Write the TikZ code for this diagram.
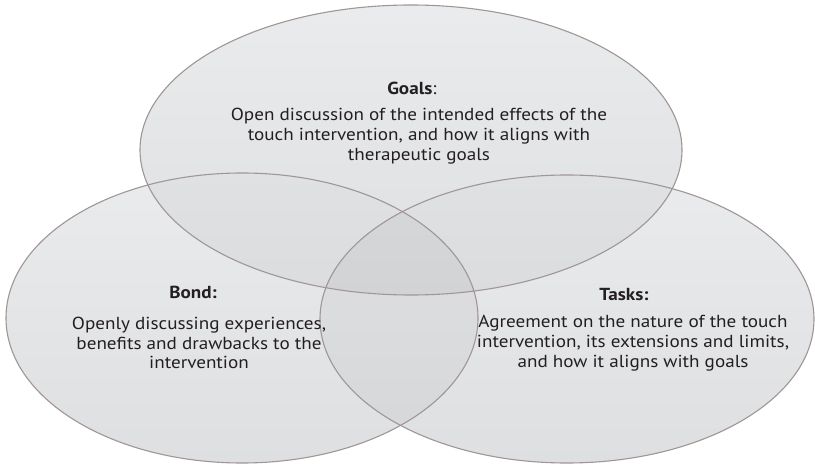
\documentclass[tikz,border=0pt]{standalone}
\usepackage{fontspec}
\setmainfont{PT Sans}[FakeStretch=1.1]
\begin{document}
\definecolor{rimcol}{RGB}{160,150,150}
\definecolor{basetop}{RGB}{244,245,247}
\definecolor{basebot}{RGB}{232,233,235}
\definecolor{inkcol}{RGB}{35,31,32}
\begin{tikzpicture}[x=1pt,y=-1pt,
  headtext/.style={text=inkcol,font=\fontsize{17.4}{20}\selectfont\bfseries,inner sep=0pt},
  bodytext/.style={text=inkcol,font=\fontsize{17.4}{19.8}\selectfont,align=center,inner sep=0pt},
  rim/.style={draw=rimcol,line width=1.1pt}]
\useasboundingbox (0,0) rectangle (815,465);
\fill[white] (0,0) rectangle (815,465);

% ellipse geometry: centre, horizontal and vertical radius
\def\goalsE{(411,150) ellipse [x radius=271pt, y radius=145pt]}
\def\bondE{(242,318) ellipse [x radius=236pt, y radius=145pt]}
\def\tasksE{(567,319) ellipse [x radius=247pt, y radius=144pt]}

% opaque soft base
\shade[top color=basetop,bottom color=basebot] \goalsE;
\shade[top color=basetop,bottom color=basebot] \bondE;
\shade[top color=basetop,bottom color=basebot] \tasksE;
% translucent layer so that overlaps darken
\fill[black,opacity=0.04] \goalsE;
\fill[black,opacity=0.04] \bondE;
\fill[black,opacity=0.04] \tasksE;
% outlines
\draw[rim] \goalsE;
\draw[rim] \bondE;
\draw[rim] \tasksE;

% labels
\node[headtext] (goalshead) at (412,88) {Goals\mdseries:};
\node[bodytext] (goalsbody) at (419,136) {Open discussion of the intended effects of the\\touch intervention, and how it aligns with\\therapeutic goals};

\node[headtext] (bondhead) at (193,292) {Bond:};
\node[bodytext] (bondbody) at (199,343) {Openly discussing experiences,\\benefits and drawbacks to the\\intervention};

\node[headtext] (taskshead) at (624,295) {Tasks:};
\node[bodytext] (tasksbody) at (633,343) {Agreement on the nature of the touch\\intervention, its extensions and limits,\\and how it aligns with goals};
\end{tikzpicture}
\end{document}
